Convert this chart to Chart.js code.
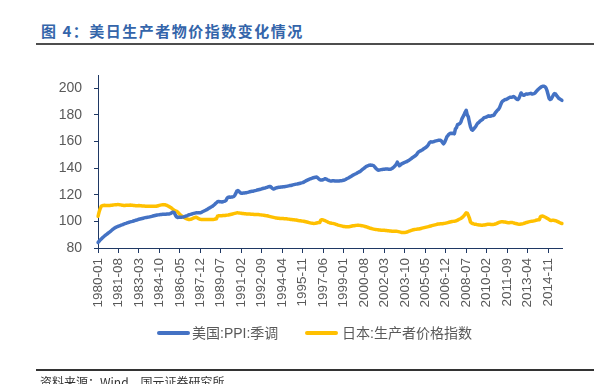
<!DOCTYPE html>
<html>
<head>
<meta charset="utf-8">
<script src="https://cdn.jsdelivr.net/npm/chart.js@4.4.1/dist/chart.umd.min.js"></script>
<style>
  body { margin: 0; width: 614px; height: 384px; overflow: hidden; background: #fff; position: relative; }
  #title { position: absolute; left: 41px; top: 22px; font: bold 15px "Noto Sans CJK SC", sans-serif; color: #3465aa; letter-spacing: 1.5px; line-height: 18px; white-space: nowrap; }
  .rule { position: absolute; left: 36px; width: 558px; background: #4d4d4d; }
  #chart { position: absolute; left: 0; top: 0; }
  .legend-line { position: absolute; top: 331px; width: 33px; height: 4px; border-radius: 2px; }
  .legend-text { position: absolute; top: 325px; font: 14px "Liberation Sans", "Noto Sans CJK SC", sans-serif; color: #595959; line-height: 16px; white-space: nowrap; }
  #source { position: absolute; left: 40px; top: 375px; font: 12px "Noto Sans CJK SC", sans-serif; color: #333; line-height: 14px; white-space: nowrap; }
</style>
</head>
<body>
<div id="title">图 4：美日生产者物价指数变化情况</div>
<div class="rule" style="top:43px;height:2px;"></div>
<canvas id="chart" width="614" height="384"></canvas>
<div class="legend-line" style="left:157px;background:#4472c4;"></div>
<div class="legend-text" style="left:192px;">美国:PPI:季调</div>
<div class="legend-line" style="left:305px;background:#ffc000;"></div>
<div class="legend-text" style="left:342px;">日本:生产者价格指数</div>
<div class="rule" style="top:369px;height:1.5px;background:#333;"></div>
<div id="source">资料来源：Wind，国元证券研究所</div>
<script>
// monthly data, 1980-01 .. 2015-12 (one row per year)
const startYear = 1980;
const endYear = 2015;

const usPpi = [
  84.2, 85.0, 86.0, 86.8, 87.6, 88.3, 89.0, 89.7, 90.3, 90.9, 91.5, 92.1,
  92.8, 93.5, 94.2, 94.8, 95.3, 95.7, 96.0, 96.4, 96.7, 97.0, 97.3, 97.6,
  98.0, 98.3, 98.5, 98.8, 99.1, 99.4, 99.6, 99.8, 100.0, 100.3, 100.6, 100.8,
  101.0, 101.3, 101.6, 101.8, 102.0, 102.2, 102.4, 102.6, 102.8, 103.0, 103.1, 103.2,
  103.4, 103.6, 103.8, 104.0, 104.2, 104.4, 104.6, 104.8, 104.9, 105.0, 105.1, 105.2,
  105.3, 105.3, 105.4, 105.4, 105.5, 105.6, 105.6, 105.8, 106.2, 106.8, 106.9, 106.3,
  104.5, 103.4, 103.0, 103.1, 103.2, 103.2, 103.2, 103.3, 103.5, 103.8, 104.1, 104.4,
  104.8, 105.1, 105.3, 105.5, 105.8, 106.0, 106.2, 106.4, 106.4, 106.5, 106.5, 106.5,
  106.8, 107.2, 107.6, 108.0, 108.4, 108.8, 109.3, 109.8, 110.3, 110.8, 111.2, 111.8,
  112.5, 113.3, 114.0, 114.8, 115.0, 114.8, 114.7, 114.6, 114.8, 115.0, 115.3, 115.8,
  117.5, 118.2, 118.3, 118.2, 118.3, 118.4, 118.6, 119.5, 121.0, 122.8, 123.2, 122.5,
  121.6, 121.2, 121.2, 121.3, 121.4, 121.5, 121.6, 121.8, 122.0, 122.3, 122.5, 122.6,
  122.7, 122.9, 123.1, 123.3, 123.6, 123.8, 124.0, 124.2, 124.4, 124.7, 124.9, 125.0,
  125.3, 125.6, 125.9, 126.2, 126.3, 125.6, 124.8, 124.3, 124.6, 125.0, 125.3, 125.5,
  125.6, 125.7, 125.8, 125.9, 126.0, 126.1, 126.2, 126.3, 126.5, 126.7, 126.9, 127.0,
  127.2, 127.4, 127.6, 127.8, 128.0, 128.1, 128.3, 128.5, 128.7, 128.9, 129.1, 129.4,
  129.9, 130.4, 130.8, 131.2, 131.6, 131.9, 132.2, 132.5, 132.8, 133.0, 133.2, 133.3,
  132.8, 132.0, 131.4, 131.1, 131.1, 131.3, 131.7, 132.1, 131.8, 131.3, 130.9, 130.6,
  130.4, 130.4, 130.5, 130.5, 130.4, 130.3, 130.3, 130.4, 130.4, 130.5, 130.6, 130.7,
  130.9, 131.1, 131.5, 132.0, 132.4, 132.8, 133.3, 133.8, 134.3, 134.8, 135.2, 135.6,
  136.0, 136.5, 137.0, 137.3, 137.8, 138.6, 139.3, 139.9, 140.5, 141.2, 141.6, 141.9,
  142.2, 142.3, 142.2, 142.1, 141.9, 141.0, 140.0, 139.2, 138.6, 138.5, 138.7, 138.9,
  139.0, 139.1, 139.2, 139.3, 139.3, 139.3, 139.2, 139.1, 139.3, 139.7, 140.3, 141.0,
  141.8, 142.8, 144.5, 143.2, 141.8, 142.5, 143.2, 143.6, 144.0, 144.4, 144.7, 145.0,
  145.5, 146.0, 146.6, 147.2, 147.9, 148.4, 148.9, 149.5, 150.3, 151.5, 152.3, 152.8,
  153.2, 153.6, 154.2, 154.8, 155.3, 155.9, 156.7, 157.8, 159.2, 159.8, 159.7, 159.7,
  160.0, 160.3, 160.5, 160.7, 160.9, 161.0, 160.9, 160.4, 159.2, 158.3, 159.5, 161.3,
  163.5, 164.5, 165.5, 166.0, 166.2, 166.0, 166.4, 165.8, 169.5, 170.5, 172.8, 173.0,
  173.5, 174.5, 177.0, 178.5, 180.0, 182.0, 183.5, 180.0, 178.5, 174.5, 171.0, 169.0,
  168.5, 169.5, 170.5, 171.5, 173.0, 174.0, 174.5, 175.5, 176.0, 176.5, 177.5, 178.0,
  178.2, 178.5, 179.0, 179.3, 179.0, 179.2, 179.5, 179.5, 180.0, 181.5, 182.5, 183.5,
  184.2, 185.5, 187.5, 189.5, 190.5, 190.9, 191.5, 191.5, 192.0, 192.5, 193.0, 193.3,
  193.3, 193.5, 193.8, 193.3, 192.5, 191.8, 191.6, 192.5, 194.5, 196.5, 195.5, 194.8,
  194.8, 195.5, 195.8, 195.6, 195.8, 196.0, 196.2, 195.8, 195.8, 196.0, 196.5, 197.5,
  198.5, 199.2, 200.0, 200.6, 201.2, 201.5, 201.6, 201.3, 200.5, 198.5, 195.5, 192.5,
  191.6, 192.0, 193.5, 195.0, 196.0, 195.8, 194.5, 193.5, 192.5, 192.0, 191.5, 190.9
];

const jpPpi = [
  103.9, 107.0, 109.5, 111.3, 111.8, 112.0, 112.1, 112.0, 111.9, 111.9, 111.9, 112.0,
  112.1, 112.2, 112.3, 112.4, 112.5, 112.5, 112.6, 112.6, 112.5, 112.4, 112.2, 112.1,
  112.0, 112.0, 112.1, 112.1, 112.2, 112.2, 112.3, 112.2, 112.1, 112.0, 111.9, 111.8,
  111.8, 111.8, 111.9, 111.8, 111.7, 111.6, 111.5, 111.5, 111.4, 111.4, 111.3, 111.3,
  111.3, 111.4, 111.4, 111.3, 111.3, 111.3, 111.4, 111.6, 111.8, 112.0, 112.2, 112.4,
  112.5, 112.6, 112.5, 112.3, 112.0, 111.6, 111.1, 110.7, 110.2, 109.5, 108.8, 108.2,
  107.9, 107.6, 107.0, 106.2, 105.3, 104.5, 104.0, 103.5, 103.0, 102.5, 102.1, 101.8,
  101.5, 101.5, 101.6, 101.8, 102.2, 102.6, 102.9, 103.1, 102.8, 102.3, 101.9, 101.6,
  101.5, 101.4, 101.4, 101.4, 101.4, 101.5, 101.5, 101.5, 101.4, 101.4, 101.4, 101.5,
  101.6, 101.8, 102.0, 103.9, 104.2, 104.3, 104.3, 104.3, 104.4, 104.4, 104.5, 104.6,
  104.7, 104.8, 105.0, 105.2, 105.4, 105.6, 105.8, 106.0, 106.2, 106.4, 106.4, 106.3,
  106.2, 106.1, 106.0, 105.9, 105.8, 105.7, 105.6, 105.6, 105.5, 105.5, 105.4, 105.3,
  105.3, 105.2, 105.2, 105.2, 105.1, 105.1, 105.0, 104.9, 104.8, 104.7, 104.6, 104.5,
  104.3, 104.2, 104.0, 103.8, 103.6, 103.4, 103.2, 103.0, 102.8, 102.6, 102.5, 102.4,
  102.3, 102.2, 102.2, 102.1, 102.1, 102.0, 102.0, 101.9, 101.8, 101.7, 101.6, 101.5,
  101.4, 101.3, 101.2, 101.1, 101.0, 100.8, 100.6, 100.5, 100.4, 100.3, 100.2, 100.1,
  99.9, 99.7, 99.5, 99.3, 99.1, 98.9, 98.7, 98.6, 98.5, 98.5, 98.6, 98.8,
  99.0, 99.1, 99.2, 101.0, 101.3, 101.1, 100.8, 100.5, 100.1, 99.7, 99.3, 99.0,
  98.8, 98.6, 98.5, 98.3, 98.1, 97.8, 97.5, 97.2, 97.0, 96.8, 96.6, 96.4,
  96.2, 96.1, 96.0, 96.0, 95.9, 96.0, 96.1, 96.3, 96.5, 96.7, 96.8, 96.9,
  97.0, 97.1, 97.1, 97.0, 96.9, 96.8, 96.6, 96.4, 96.2, 96.0, 95.7, 95.4,
  95.1, 94.8, 94.6, 94.4, 94.2, 94.0, 93.9, 93.8, 93.7, 93.6, 93.5, 93.4,
  93.3, 93.3, 93.3, 93.2, 93.1, 93.0, 92.9, 92.8, 92.7, 92.6, 92.6, 92.6,
  92.6, 92.6, 92.5, 92.3, 92.1, 91.9, 91.7, 91.6, 91.6, 91.7, 91.8, 92.0,
  92.3, 92.6, 92.9, 93.2, 93.5, 93.7, 93.9, 94.0, 94.1, 94.2, 94.3, 94.5,
  94.7, 94.9, 95.1, 95.3, 95.5, 95.7, 95.9, 96.1, 96.3, 96.5, 96.8, 97.0,
  97.2, 97.4, 97.6, 97.8, 98.0, 98.1, 98.2, 98.3, 98.3, 98.4, 98.5, 98.7,
  98.9, 99.1, 99.3, 99.5, 99.7, 99.9, 100.0, 100.1, 100.2, 100.5, 100.9, 101.4,
  101.8, 102.2, 102.7, 103.4, 104.3, 105.4, 106.4, 106.2, 104.6, 102.5, 99.5, 98.7,
  98.4, 98.1, 97.9, 97.8, 97.6, 97.4, 97.3, 97.2, 97.1, 97.1, 97.2, 97.3,
  97.5, 97.7, 97.8, 97.9, 97.8, 97.7, 97.7, 97.7, 97.8, 98.0, 98.3, 98.7,
  99.1, 99.4, 99.6, 99.8, 99.7, 99.6, 99.5, 99.3, 99.1, 99.0, 99.0, 99.1,
  99.2, 99.1, 98.9, 98.6, 98.4, 98.2, 98.0, 97.9, 97.9, 98.0, 98.1, 98.3,
  98.6, 98.9, 99.2, 99.4, 99.6, 99.8, 100.0, 100.1, 100.2, 100.4, 100.6, 100.9,
  101.1, 101.2, 101.3, 103.6, 103.9, 104.0, 103.7, 103.3, 102.9, 102.4, 101.9, 101.4,
  100.9, 100.7, 100.8, 100.8, 100.7, 100.5, 100.2, 99.8, 99.4, 99.0, 98.6, 98.4
];

// y axis: range and tick labels
const yMin = 80;
const yMax = 210;
const yTicks = [80, 100, 120, 140, 160, 180, 200];
// one x label every 19 months
const labelEvery = 19;

// month labels "1980-01" ...
const months = [];
for (let y = startYear; y <= endYear; y++) {
  for (let m = 1; m <= 12; m++) {
    months.push(y + '-' + (m < 10 ? '0' + m : m));
  }
}

document.addEventListener('DOMContentLoaded', function() {
  const axisColor = '#1f3864';
  const tickColor = '#595959';
  const ctx = document.getElementById('chart').getContext('2d');

  new Chart(ctx, {
    type: 'line',
    data: {
      labels: months,
      datasets: [{
        label: '美国:PPI:季调',
        data: usPpi,
        borderColor: '#4472c4',
        borderWidth: 3.5,
        pointRadius: 0,
        borderJoinStyle: 'round',
        borderCapStyle: 'round',
        tension: 0
      }, {
        label: '日本:生产者价格指数',
        data: jpPpi,
        borderColor: '#ffc000',
        borderWidth: 3.5,
        pointRadius: 0,
        borderJoinStyle: 'round',
        borderCapStyle: 'round',
        tension: 0
      }]
    },
    options: {
      responsive: false,
      animation: false,
      layout: {
        padding: { top: 75, left: 58, right: 52, bottom: 56 }
      },
      plugins: {
        legend: { display: false },
        tooltip: { enabled: false }
      },
      scales: {
        x: {
          offset: false,
          afterFit: function(scale) { scale.height = 80; },
          border: { display: true, color: axisColor, width: 1 },
          grid: {
            drawOnChartArea: false,
            drawTicks: true,
            tickLength: 5,
            color: axisColor
          },
          ticks: {
            autoSkip: false,
            minRotation: 90,
            maxRotation: 90,
            padding: 5,
            color: tickColor,
            font: { family: 'Liberation Sans', size: 13.5 },
            callback: function(value, index) {
              return index % labelEvery === 0 ? months[index] : null;
            }
          }
        },
        y: {
          min: yMin,
          max: yMax,
          afterFit: function(scale) { scale.width = 40; },
          // keep only the labelled ticks, the axis itself still runs to yMax
          afterBuildTicks: function(scale) {
            scale.ticks = yTicks.map(v => ({ value: v }));
          },
          border: { display: true, color: axisColor, width: 1 },
          grid: {
            drawOnChartArea: false,
            drawTicks: true,
            tickLength: 4,
            color: axisColor
          },
          ticks: {
            padding: 12,
            color: tickColor,
            font: { family: 'Liberation Sans', size: 14 }
          }
        }
      }
    }
  });
});
</script>
</body>
</html>
